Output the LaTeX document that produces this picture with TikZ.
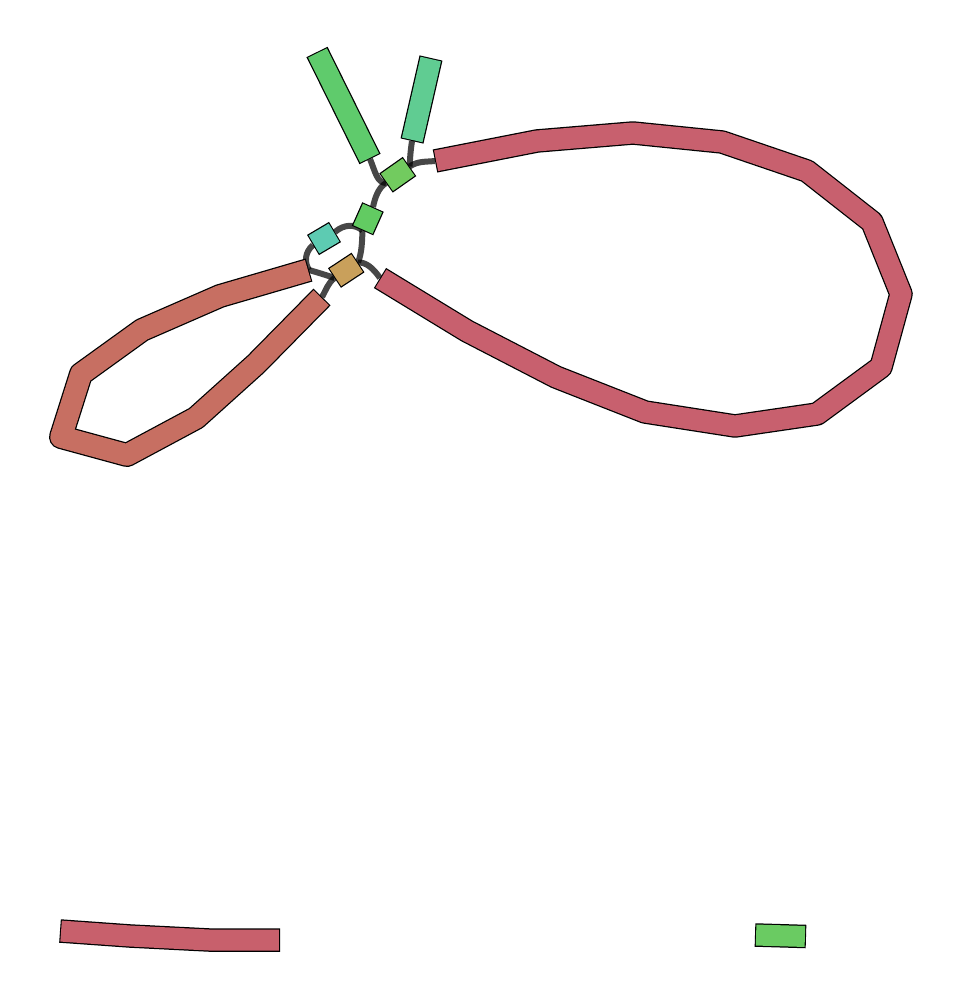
\documentclass[tikz,border=0pt]{standalone}
\begin{document}
\begin{tikzpicture}[x=1pt,y=-1pt,line join=round,
  edge/.style={line width=6pt,draw=black,draw opacity=0.72,line cap=butt}]
\useasboundingbox (0,0) rectangle (962,1000);
\definecolor{bigred}{HTML}{C8606E}
\definecolor{loopred}{HTML}{C76F62}
\definecolor{barred}{HTML}{C8606C}
\definecolor{tlgreen}{HTML}{5FCB6C}
\definecolor{trgreen}{HTML}{60CC92}
\definecolor{sonegreen}{HTML}{72CB5F}
\definecolor{stwogreen}{HTML}{62CB62}
\definecolor{steal}{HTML}{5DCBB2}
\definecolor{stan}{HTML}{C9A05B}
\definecolor{brgreen}{HTML}{6ACB62}
\newcommand\segmentpath[4]{%
  \draw[line width=#3,black] #4;
  \draw[line width=#2,#1,shorten <=1.1pt,shorten >=1.1pt] #4;}
% end coordinates
\coordinate (tlga) at (317,52);  \coordinate (tlgb) at (370,159);
\coordinate (trga) at (431,58);  \coordinate (trgb) at (412,141);
\coordinate (s1a) at (386,183);  \coordinate (s1b) at (409.5,166.5);
\coordinate (s2a) at (373,207);  \coordinate (s2b) at (362.5,230.5);
\coordinate (s3a) at (335,232);  \coordinate (s3b) at (313,245);
\coordinate (s4a) at (358,262.5);\coordinate (s4b) at (334.5,278);
\coordinate (bra) at (435,161);  \coordinate (brb) at (380,278);
\coordinate (lla) at (309,270);  \coordinate (llb) at (322,297);
\coordinate (bba) at (60,931);   \coordinate (bbb) at (280,940);
\coordinate (bga) at (755,935);  \coordinate (bgb) at (806,936.5);
% connectors
\draw[edge] (tlgb) .. controls (375,171) and (377,183) .. (s1a);
\draw[edge] (s1a) .. controls (378,188) and (375,198) .. (s2a);
\draw[edge] (trgb) .. controls (410,154) and (410,162) .. (s1b);
\draw[edge] (s1b) .. controls (418,161) and (425,162) .. (bra);
\draw[edge] (s2b) .. controls (355,224) and (344,224) .. (s3a);
\draw[edge] (s2b) .. controls (362,242) and (362,252) .. (s4a);
\draw[edge] (s4a) .. controls (366,262) and (373,268) .. (brb);
\draw[edge] (s3b) .. controls (305,252) and (304,262) .. (lla);
\draw[edge] (lla) .. controls (316,272) and (326,275) .. (s4b);
\draw[edge] (s4b) .. controls (328,283) and (326,290) .. (llb);
% nodes (segments)
\segmentpath{bigred}{21pt}{23.5pt}{(bra) -- (537,141) -- (633,133) -- (722,142) -- (807,171) -- (872,222) -- (901,294) -- (881,367) -- (817,414) -- (735,426) -- (645,412) -- (556,377) -- (467,331) -- (brb)}
\segmentpath{loopred}{21.5pt}{24pt}{(lla) -- (220,296) -- (142,330) -- (81,374) -- (61,437) -- (127,455) -- (196,418) -- (256,364) -- (llb)}
\segmentpath{barred}{21pt}{23.5pt}{(bba) -- (130,936) -- (209,940) -- (bbb)}
\segmentpath{brgreen}{21pt}{23.5pt}{(bga) -- (bgb)}
\segmentpath{tlgreen}{21pt}{23.5pt}{(tlga) -- (tlgb)}
\segmentpath{trgreen}{21pt}{23.5pt}{(trga) -- (trgb)}
\segmentpath{sonegreen}{21pt}{23.5pt}{(s1a) -- (s1b)}
\segmentpath{stwogreen}{21pt}{23.5pt}{(s2a) -- (s2b)}
\segmentpath{steal}{21pt}{23.5pt}{(s3a) -- (s3b)}
\segmentpath{stan}{21pt}{23.5pt}{(s4a) -- (s4b)}
\end{tikzpicture}
\end{document}
